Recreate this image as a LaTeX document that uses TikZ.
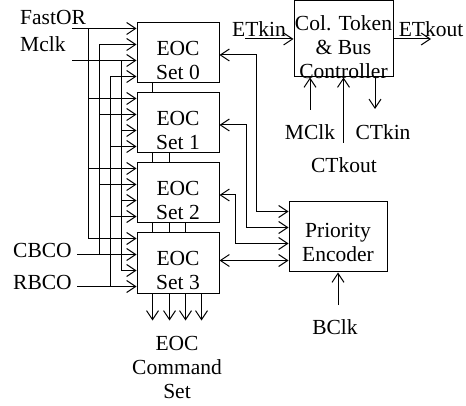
\documentclass[tikz,border=0pt]{standalone}
\usepackage{fontspec}
\setmainfont{Liberation Serif}
\usetikzlibrary{arrows.meta,positioning,calc}

\begin{document}
\begin{tikzpicture}[
  x=1pt, y=-1pt,
  txt/.style={font=\fontsize{21.5}{24}\selectfont, align=center, inner sep=0pt},
  blk/.style={draw, line width=1pt, inner sep=0pt},
  eoc/.style={blk, minimum width=82pt, minimum height=60pt},
  wire/.style={line width=1pt},
  arr/.style={wire, -{Straight Barb[length=9pt,width=12pt]}},
  darr/.style={wire, {Straight Barb[length=9pt,width=12pt]}-{Straight Barb[length=9pt,width=12pt]}},
]
\useasboundingbox (0,0) rectangle (466,406);

%% ---- EOC sets ----
\foreach \i in {0,...,3}{
  \node[eoc] (set\i) at (178, 53+70*\i) {};
  \node[txt] (settxt\i) at ([yshift=-7pt]set\i.center) {EOC\\Set \i};
  \foreach \dy [count=\k] in {6,22,38,54}
    \coordinate (in\i-\k) at ($(set\i.north west)+(0,\dy)$);
}

%% links between sets
\foreach \a/\b/\xs in {0/1/{16}, 1/2/{16,33}, 2/3/{16,33,49}}
  \foreach \dx in \xs
    \draw[wire] ($(set\a.south west)+(\dx,0)$) -- ($(set\b.north west)+(\dx,0)$);

%% command set outputs
\foreach \dx in {16,33,49,65}
  \draw[arr] ($(set3.south west)+(\dx,0)$) -- ++(0,27);
\node[txt] (cmdset) at (177,367) {EOC\\Command\\Set};

%% ---- Input buses ----
\foreach \k/\bx in {1/88, 2/99, 3/121, 4/110}{
  \draw[wire] (in0-\k -| \bx,0) -- (in3-\k -| \bx,0);
  \foreach \i in {0,...,3}
    \draw[arr] (in\i-\k -| \bx,0) -- (in\i-\k);
}

\node[txt, anchor=base west] (fastor) at (20,25) {FastOR};
\node[txt, anchor=base west] (mclk)   at (20,52) {Mclk};
\node[txt, anchor=base west] (cbco)   at (13,258) {CBCO};
\node[txt, anchor=base west] (rbco)   at (13,290) {RBCO};
\coordinate (fastorin) at (in0-1 -| 72,0);
\coordinate (mclkin)   at (in0-3 -| 72,0);
\coordinate (cbcoin)   at (in3-2 -| 77,0);
\coordinate (rbcoin)   at (in3-4 -| 77,0);
\draw[wire] (fastorin) -- (in0-1 -| 88,0);
\draw[wire] (mclkin)   -- (in0-3 -| 121,0);
\draw[wire] (cbcoin)   -- (in3-2 -| 99,0);
\draw[wire] (rbcoin)   -- (in3-4 -| 110,0);

%% ---- Column token & bus controller ----
\node[blk, minimum width=99pt, minimum height=76pt] (ctb) at (343.5,39) {};
\node[txt] (ctbtxt) at ([yshift=-8pt]ctb.center) {Col. Token\\\& Bus\\Controller};

\node[txt, anchor=base] (etkin)  at (259,36.5) {ETkin};
\node[txt, anchor=base] (etkout) at (431,36.5) {ETkout};
\coordinate (etkinin)   at (245,39);
\coordinate (etkoutend) at (431,39);
\draw[arr] (etkinin) -- (ctb.west);
\draw[arr] (ctb.east) -- (etkoutend);

\node[txt, anchor=base] (mclkb)  at (310,140) {MClk};
\node[txt, anchor=base] (ctkin)  at (383,140) {CTkin};
\node[txt, anchor=base] (ctkout) at (344,173) {CTkout};
\coordinate (mclkbin)  at (310,110);
\coordinate (ctkoutin) at (343.5,143);
\coordinate (ctkinend) at (375,109);
\draw[arr] (mclkbin) -- (mclkbin |- ctb.south);
\draw[arr] (ctkoutin) -- (ctkoutin |- ctb.south);
\draw[arr] (ctkinend |- ctb.south) -- (ctkinend);

%% ---- Priority encoder ----
\node[blk, minimum width=98pt, minimum height=70pt] (pe) at (338,237) {};
\node[txt] (petxt) at ([yshift=-5pt]pe.center) {Priority\\Encoder};
\foreach \dy [count=\k] in {10,26,42}
  \coordinate (pe\k) at ($(pe.north west)+(0,\dy)$);

\node[txt, anchor=base] (bclk) at (335,334) {BClk};
\coordinate (bclkin) at (338,305);
\draw[arr] (bclkin) -- (pe.south);

%% set <-> encoder
\foreach \i/\k/\vx in {0/1/256, 1/2/246, 2/3/235}{
  \coordinate (r\i) at ($(set\i.north east)+(0,32.5)$);
  \draw[darr] (r\i) -- (r\i -| \vx,0) -- (pe\k -| \vx,0) -- (pe\k);
}
\coordinate (r3) at ($(set3.north east)+(0,28)$);
\draw[darr] (r3) -- (r3 -| pe.west);

\end{tikzpicture}
\end{document}
